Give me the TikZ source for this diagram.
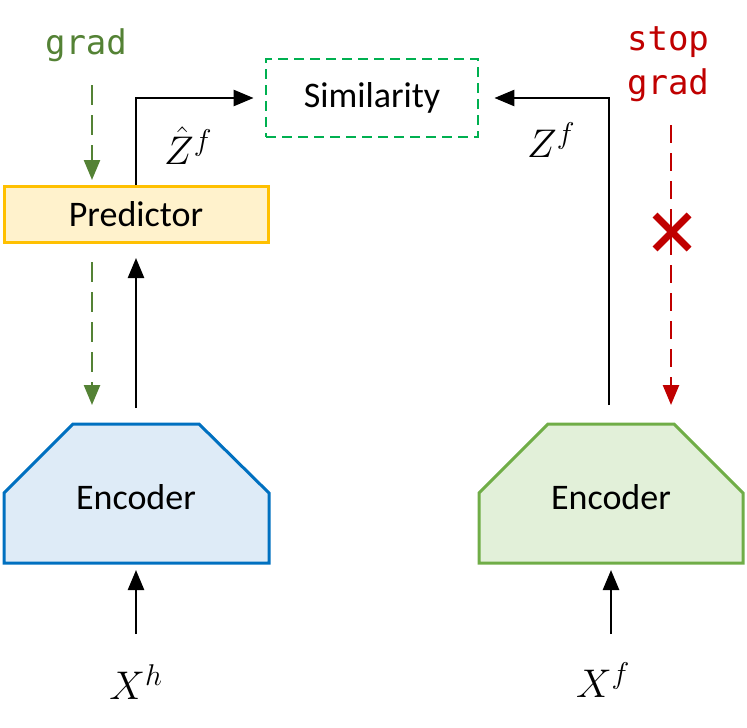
\RequirePackage{fix-cm}
\documentclass[tikz,border=0pt]{standalone}
\usepackage{fontspec}
\setmainfont{Carlito}
\newfontfamily\monof{DejaVu Sans Mono}
\usetikzlibrary{arrows.meta}
\DeclareMathSizes{40}{40}{30}{22}
\definecolor{encblue}{HTML}{0070C0}
\definecolor{encbluefill}{HTML}{DEEBF7}
\definecolor{encgreen}{HTML}{70AD47}
\definecolor{encgreenfill}{HTML}{E2F0D9}
\definecolor{predfill}{HTML}{FFF2CC}
\definecolor{predline}{HTML}{FFC000}
\definecolor{simgreen}{HTML}{00B050}
\definecolor{gradgreen}{HTML}{548235}
\definecolor{stopred}{HTML}{C00000}
\tikzset{
  lbl/.style={font=\fontsize{36}{40}\selectfont, text=black, inner sep=0pt},
  mathlbl/.style={font=\fontsize{40}{44}\selectfont, inner sep=0pt},
  monolbl/.style={font=\monof\fontsize{34}{42}\selectfont, inner sep=0pt, align=center},
  predbox/.style={draw=predline, fill=predfill, line width=3pt, minimum width=264pt, minimum height=56pt, lbl},
  simbox/.style={draw=simgreen, line width=2.8pt, dash pattern=on 10pt off 6pt, minimum width=212pt, minimum height=78pt, lbl},
  arr/.style={line width=2.5pt, -{Triangle[length=20pt,width=16pt]}},
  garr/.style={draw=gradgreen, line width=2.5pt, dash pattern=on 20pt off 10pt, -{Triangle[length=20pt,width=16pt]}},
  rarr/.style={draw=stopred, line width=2.5pt, dash pattern=on 18pt off 10pt, -{Triangle[length=20pt,width=16pt]}},
  encL/.style={draw=encblue, fill=encbluefill, line width=3pt, line join=miter},
  encR/.style={draw=encgreen, fill=encgreenfill, line width=3pt, line join=miter},
}
\begin{document}
\begin{tikzpicture}[x=1pt,y=-1pt]
\useasboundingbox (0,0) rectangle (747,728);
% encoders
\draw[encL] (73,424) -- (199,424) -- (269,493) -- (269,563) -- (4,563) -- (4,493) -- cycle;
\draw[encR] (548,424) -- (674,424) -- (743,493) -- (743,563) -- (479,563) -- (479,493) -- cycle;
\node[lbl] (encLtxt) at (136,497) {Encoder};
\node[lbl] (encRtxt) at (611,497) {Encoder};
% boxes
\node[predbox] (pred) at (136,214) {Predictor};
\node[simbox] (sim) at (372,98) {Similarity};
% labels
\node[monolbl, text=gradgreen] (grad) at (86,45) {grad};
\node[monolbl, text=stopred] (stopgrad) at (668,64) {stop\\[2pt]grad};
\node[mathlbl] (zhat) at (188,146) {$\hat{Z}^{f}$};
\node[mathlbl] (zf) at (551,140) {$Z^{f}$};
\node[mathlbl] (xh) at (136,682) {$X^{h}$};
\node[mathlbl] (xf) at (603,680) {$X^{f}$};
% coordinates
\coordinate (gA) at (92,85);
\coordinate (gB) at (92,180);
\coordinate (gC) at (92,262);
\coordinate (gD) at (92,405);
\coordinate (encLtop) at (136,408);
\coordinate (predBot) at (136,258);
\coordinate (encRtop) at (609,405);
\coordinate (rA) at (671,125);
\coordinate (rB) at (671,405);
\coordinate (inL) at (136,634);
\coordinate (inLtip) at (136,570);
\coordinate (inR) at (611,634);
\coordinate (inRtip) at (611,570);
\coordinate (cross) at (672,232);
% connectors
\draw[arr] (pred.north) |- ([xshift=-11pt]sim.west);
\draw[arr] (encRtop) |- ([xshift=15pt]sim.east);
\draw[arr] (encLtop) -- (predBot);
\draw[arr] (inL) -- (inLtip);
\draw[arr] (inR) -- (inRtip);
\draw[garr] (gA) -- (gB);
\draw[garr] (gC) -- (gD);
\draw[rarr] (rA) -- (rB);
\draw[stopred, line width=7pt] ([shift={(-17,-17)}]cross) -- ([shift={(17,17)}]cross)
  ([shift={(-17,17)}]cross) -- ([shift={(17,-17)}]cross);
\end{tikzpicture}
\end{document}
